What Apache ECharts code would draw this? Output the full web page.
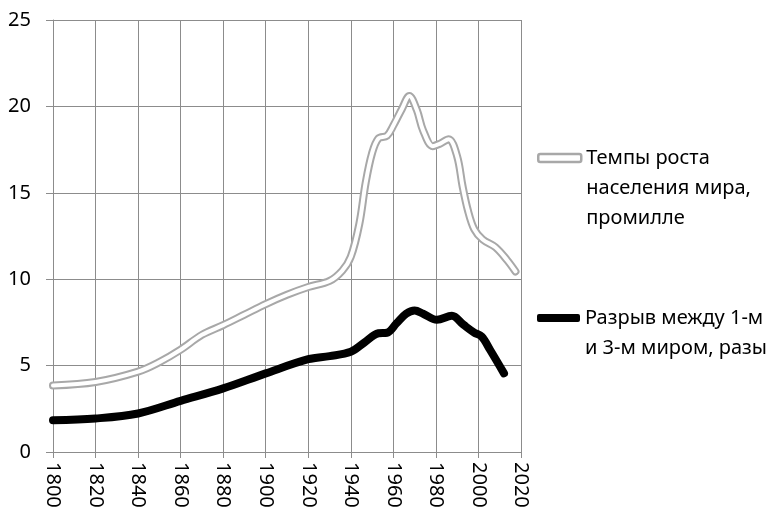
<!DOCTYPE html>
<html>
<head>
<meta charset="utf-8">
<script src="https://cdn.jsdelivr.net/npm/echarts@6/dist/echarts.min.js"></script>
<style>
html,body{margin:0;padding:0;background:#fff;}
#chart{width:776px;height:515px;}
</style>
</head>
<body>
<div id="chart"></div>
<script>
// Data
var growthYears = [1800, 1820, 1840, 1850, 1860, 1870, 1880, 1890, 1900, 1910, 1920, 1930, 1936, 1940, 1944, 1947, 1950, 1953, 1957, 1960, 1964, 1967.5, 1971, 1974, 1978.5, 1982, 1986, 1990, 1992.5, 1995, 1998, 2002, 2008, 2013.5, 2017.4];
var growthValues = [3.85, 4.05, 4.65, 5.2, 5.92, 6.78, 7.34, 7.95, 8.56, 9.1, 9.55, 9.9, 10.5, 11.3, 13.2, 15.6, 17.3, 18.15, 18.3, 18.9, 19.85, 20.6, 19.8, 18.6, 17.7, 17.85, 18.1, 17.1, 15.4, 14.0, 12.9, 12.3, 11.85, 11.1, 10.45];
var gapYears = [1800, 1820, 1840, 1860, 1880, 1900, 1920, 1930, 1940, 1946, 1953, 1957, 1961.5, 1966, 1970, 1974, 1980.5, 1987.5, 1993, 1998, 2001.5, 2005.5, 2012];
var gapValues = [1.84, 1.94, 2.23, 2.96, 3.68, 4.55, 5.37, 5.55, 5.8, 6.3, 6.87, 6.9, 7.45, 8.0, 8.19, 8.0, 7.65, 7.88, 7.36, 6.91, 6.68, 5.9, 4.55];
var growthName = 'Темпы роста населения мира, промилле';
var gapName = 'Разрыв между 1-м и 3-м миром, разы';
var growthLines = ['Темпы роста', 'населения мира,', 'промилле'];
var gapLines = ['Разрыв между 1-м', 'и 3-м миром, разы'];
var xMin = 1800, xMax = 2020, xStep = 20;
var yMin = 0, yMax = 25, yStep = 5;

function pairs(xs, ys) { return xs.map(function (x, i) { return [x, ys[i]]; }); }

var FONT = 'Noto Sans';
var gridColor = '#8c8c8c';
var grayLine = '#a8a8a8';
var chart = echarts.init(document.getElementById('chart'), null, {renderer: 'canvas'});
chart.setOption({
  animation: false,
  backgroundColor: '#fff',
  grid: {left: 53, right: 255, top: 20, bottom: 63, containLabel: false},
  xAxis: {
    type: 'value', min: xMin, max: xMax, interval: xStep,
    axisLine: {show: true, lineStyle: {color: gridColor, width: 1}},
    axisTick: {show: true, length: 6, lineStyle: {color: gridColor}},
    splitLine: {show: true, lineStyle: {color: gridColor, width: 1}},
    axisLabel: {rotate: -90, margin: 10, color: '#000', fontFamily: FONT, fontSize: 20,
      formatter: function (v) { return String(v); }}
  },
  yAxis: {
    type: 'value', min: yMin, max: yMax, interval: yStep,
    axisLine: {show: true, lineStyle: {color: gridColor, width: 1}},
    axisTick: {show: true, length: 7, lineStyle: {color: gridColor}},
    splitLine: {show: true, lineStyle: {color: gridColor, width: 1}},
    axisLabel: {margin: 22, color: '#000', fontFamily: FONT, fontSize: 20}
  },
  legend: [
    {
      data: [{name: growthName, icon: 'roundRect', itemStyle: {color: '#fff', borderColor: grayLine, borderWidth: 2.5}}],
      left: 537, top: 83, padding: 0, itemWidth: 43, itemHeight: 8, selectedMode: false,
      formatter: function () { return ' \n \n' + growthLines.join('\n'); },
      textStyle: {fontFamily: FONT, fontSize: 20, color: '#000', lineHeight: 30}
    },
    {
      data: [{name: gapName, icon: 'roundRect', itemStyle: {color: '#000', borderWidth: 0}}],
      left: 537, top: 273, padding: 0, itemWidth: 43, itemHeight: 8, selectedMode: false,
      formatter: function () { return ' \n' + gapLines.join('\n'); },
      textStyle: {fontFamily: FONT, fontSize: 20, color: '#000', lineHeight: 30}
    }
  ],
  series: [
    {
      name: growthName, type: 'line', data: pairs(growthYears, growthValues),
      smooth: 0.35, showSymbol: false, symbol: 'none', z: 2,
      lineStyle: {color: grayLine, width: 8, cap: 'round', join: 'round'},
      itemStyle: {color: grayLine}
    },
    {
      name: 'growthInner', type: 'line', data: pairs(growthYears, growthValues),
      smooth: 0.35, showSymbol: false, symbol: 'none', z: 3, silent: true,
      lineStyle: {color: '#ffffff', width: 4, cap: 'round', join: 'round'}
    },
    {
      name: gapName, type: 'line', data: pairs(gapYears, gapValues),
      smooth: 0.35, showSymbol: false, symbol: 'none', z: 4,
      lineStyle: {color: '#000', width: 8, cap: 'round', join: 'round'},
      itemStyle: {color: '#000'}
    }
  ]
});
</script>
</body>
</html>
